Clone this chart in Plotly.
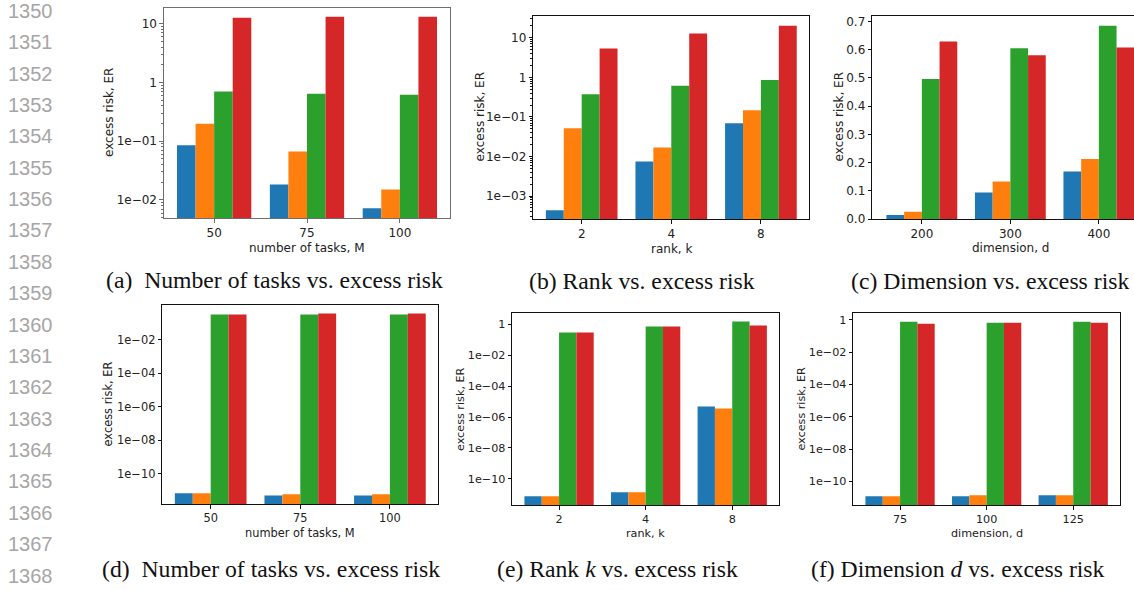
import plotly.graph_objects as go

W, H = 1134, 590
COLORS = ["#1f77b4", "#ff7f0e", "#2ca02c", "#d62728"]

# ---------------- data ----------------
line_numbers = list(range(1350, 1369))

# (a) number of tasks vs excess risk
a_categories = ["50", "75", "100"]
a_s1 = [0.085, 0.0183, 0.00726]
a_s2 = [0.198, 0.067, 0.0151]
a_s3 = [0.70, 0.645, 0.62]
a_s4 = [12.6, 13.1, 13.1]

# (b) rank vs excess risk
b_categories = ["2", "4", "8"]
b_s1 = [4.4e-4, 7.5e-3, 0.0697]
b_s2 = [0.052, 0.0168, 0.147]
b_s3 = [0.377, 0.61, 0.857]
b_s4 = [5.4, 12.8, 20.3]

# (c) dimension vs excess risk
c_categories = ["200", "300", "400"]
c_s1 = [0.014, 0.094, 0.168]
c_s2 = [0.0255, 0.133, 0.213]
c_s3 = [0.4965, 0.605, 0.685]
c_s4 = [0.629, 0.580, 0.608]

# (d) number of tasks vs excess risk
d_categories = ["50", "75", "100"]
d_s1 = [6.6e-12, 5.0e-12, 5.0e-12]
d_s2 = [6.6e-12, 5.8e-12, 5.8e-12]
d_s3 = [0.31, 0.31, 0.31]
d_s4 = [0.31, 0.356, 0.356]

# (e) rank k vs excess risk
e_categories = ["2", "4", "8"]
e_s1 = [7.4e-12, 1.3e-11, 4.8e-6]
e_s2 = [7.4e-12, 1.3e-11, 3.6e-6]
e_s3 = [0.31, 0.745, 1.56]
e_s4 = [0.31, 0.745, 0.86]

# (f) dimension d vs excess risk
f_categories = ["75", "100", "125"]
f_s1 = [1.22e-11, 1.22e-11, 1.4e-11]
f_s2 = [1.22e-11, 1.4e-11, 1.4e-11]
f_s3 = [0.755, 0.656, 0.755]
f_s4 = [0.57, 0.656, 0.656]

# tick labels
a_tickvals = [1e-2, 1e-1, 1, 10]
a_ticktext = ["1e\u221202", "1e\u221201", "1", "10"]
b_tickvals = [1e-3, 1e-2, 1e-1, 1, 10]
b_ticktext = ["1e\u221203", "1e\u221202", "1e\u221201", "1", "10"]
c_tickvals = [0.0, 0.1, 0.2, 0.3, 0.4, 0.5, 0.6, 0.7]
c_ticktext = ["0.0", "0.1", "0.2", "0.3", "0.4", "0.5", "0.6", "0.7"]
d_tickvals = [1e-10, 1e-8, 1e-6, 1e-4, 1e-2]
d_ticktext = ["1e\u221210", "1e\u221208", "1e\u221206", "1e\u221204", "1e\u221202"]
ef_tickvals = [1e-10, 1e-8, 1e-6, 1e-4, 1e-2, 1]
ef_ticktext = ["1e\u221210", "1e\u221208", "1e\u221206", "1e\u221204", "1e\u221202", "1"]

x_titles = ["number of tasks, M", "rank, k", "dimension, d",
            "number of tasks, M", "rank, k", "dimension, d"]
y_title = "excess risk, ER"
captions = [
    "(a)\u00a0 Number of tasks vs. excess risk",
    "(b) Rank vs. excess risk",
    "(c) Dimension vs. excess risk",
    "(d)\u00a0 Number of tasks vs. excess risk",
    "(e) Rank <i>k</i> vs. excess risk",
    "(f) Dimension <i>d</i> vs. excess risk",
]

# ---------------- layout settings (pixels) ----------------
panels = [
    dict(cats=a_categories, series=[a_s1, a_s2, a_s3, a_s4], box=(164, 450, 7, 220),
         log=True, yr=(-2.307, 1.268), xr=(-0.54, 2.54), tv=a_tickvals, tt=a_ticktext,
         line="#6e6e6e", fs=12, xt=(307, 250), yt=(109, 113.5), cap=(274.5, 282.5), minor=True),
    dict(cats=b_categories, series=[b_s1, b_s2, b_s3, b_s4], box=(533.3, 809.3, 15.3, 221),
         log=True, yr=(-3.58, 1.549), xr=(-0.54, 2.54), tv=b_tickvals, tt=b_ticktext,
         line="#111", fs=12, xt=(671.5, 251), yt=(480, 118), cap=(641.5, 284), minor=True),
    dict(cats=c_categories, series=[c_s1, c_s2, c_s3, c_s4], box=(872.3, 1134, 15.3, 221),
         log=False, yr=(0, 0.719), xr=(-0.56, -0.56 + (1134 - 872.3) / 88.5), tv=c_tickvals,
         tt=c_ticktext, line="#111", fs=12, xt=(1010, 250.5), yt=(839, 118), cap=(990, 284),
         minor=False, noright=True),
    dict(cats=d_categories, series=[d_s1, d_s2, d_s3, d_s4], box=(162.3, 438.3, 308, 510),
         log=True, yr=(-11.82, 0.076), xr=(-0.54, 2.54), tv=d_tickvals, tt=d_ticktext,
         line="#111", fs=11.4, xt=(300.3, 539), yt=(108, 409), cap=(271, 576), minor=False),
    dict(cats=e_categories, series=[e_s1, e_s2, e_s3, e_s4], box=(512.3, 779, 316.3, 511),
         log=True, yr=(-11.71, 0.75), xr=(-0.54, 2.54), tv=ef_tickvals, tt=ef_ticktext,
         line="#111", fs=11.2, xt=(645.7, 539.5), yt=(461, 413.6), cap=(617, 576), minor=False),
    dict(cats=f_categories, series=[f_s1, f_s2, f_s3, f_s4], box=(853.3, 1120, 316, 511),
         log=True, yr=(-11.46, 0.43), xr=(-0.54, 2.54), tv=ef_tickvals, tt=ef_ticktext,
         line="#111", fs=11.2, xt=(986.7, 539.5), yt=(801.7, 413.5), cap=(958, 576), minor=False),
]

TEXT = "#222222"
MPL_FONT = "DejaVu Sans"

fig = go.Figure()
layout = dict(
    width=W, height=H, margin=dict(l=0, r=0, t=0, b=0),
    paper_bgcolor="white", plot_bgcolor="white",
    barmode="group", bargap=0.2, bargroupgap=0.0, showlegend=False,
)
annotations = []

for i, p in enumerate(panels):
    sfx = "" if i == 0 else str(i + 1)
    l, r, t, b = p["box"]
    for k, vals in enumerate(p["series"]):
        fig.add_trace(go.Bar(x=p["cats"], y=vals, marker=dict(color=COLORS[k], line=dict(width=0)),
                             offsetgroup=str(k), xaxis="x" + sfx, yaxis="y" + sfx,
                             hoverinfo="x+y"))
    layout["xaxis" + sfx] = dict(
        domain=[l / W, min(r / W, 1.0)], anchor="y" + sfx, type="category",
        range=list(p["xr"]), showline=True, linecolor=p["line"], linewidth=1.2, mirror=True,
        ticks="outside", ticklen=3.5, tickwidth=1, tickcolor=p["line"],
        tickfont=dict(family=MPL_FONT, size=p["fs"], color=TEXT), showgrid=False, zeroline=False,
    )
    yax = dict(
        domain=[1 - b / H, 1 - t / H], anchor="x" + sfx,
        type="log" if p["log"] else "linear", range=list(p["yr"]),
        showline=True, linecolor=p["line"], linewidth=1.2,
        mirror=not p.get("noright", False),
        ticks="outside", ticklen=3.5, tickwidth=1, tickcolor=p["line"],
        tickmode="array", tickvals=p["tv"], ticktext=p["tt"],
        tickfont=dict(family=MPL_FONT, size=p["fs"], color=TEXT),
        showgrid=False, zeroline=False,
    )
    if p["minor"]:
        lo, hi = int(p["yr"][0]) - 1, int(p["yr"][1]) + 1
        mv = [m * 10.0 ** e for e in range(lo, hi + 1) for m in range(2, 10)]
        yax["minor"] = dict(tickmode="array", tickvals=mv, ticks="outside", ticklen=2,
                            tickwidth=0.8, tickcolor=p["line"], showgrid=False)
    layout["yaxis" + sfx] = yax

    # axis titles
    annotations.append(dict(text=x_titles[i], x=p["xt"][0] / W, y=1 - p["xt"][1] / H,
                            xref="paper", yref="paper", showarrow=False, xanchor="center",
                            yanchor="middle", font=dict(family=MPL_FONT, size=p["fs"], color=TEXT)))
    annotations.append(dict(text=y_title, x=p["yt"][0] / W, y=1 - p["yt"][1] / H,
                            xref="paper", yref="paper", showarrow=False, xanchor="center",
                            yanchor="middle", textangle=-90,
                            font=dict(family=MPL_FONT, size=p["fs"], color=TEXT)))
    # caption
    annotations.append(dict(text=captions[i], x=p["cap"][0] / W, y=1 - p["cap"][1] / H,
                            xref="paper", yref="paper", showarrow=False, xanchor="center",
                            yanchor="middle",
                            font=dict(family="Liberation Serif", size=23.7, color="#111111")))

# page line numbers
for n, num in enumerate(line_numbers):
    annotations.append(dict(text=str(num), x=6 / W, y=1 - (10 + 31.8 * n) / H,
                            xref="paper", yref="paper", showarrow=False, xanchor="left",
                            yanchor="middle",
                            font=dict(family="Liberation Sans", size=20, color="#a6a6a6")))

layout["annotations"] = annotations
fig.update_layout(**layout)
fig.write_html(
    "out.html",
    config={"displayModeBar": False},
    post_script="document.body.style.margin='0px';document.body.style.overflow='hidden';",
)
